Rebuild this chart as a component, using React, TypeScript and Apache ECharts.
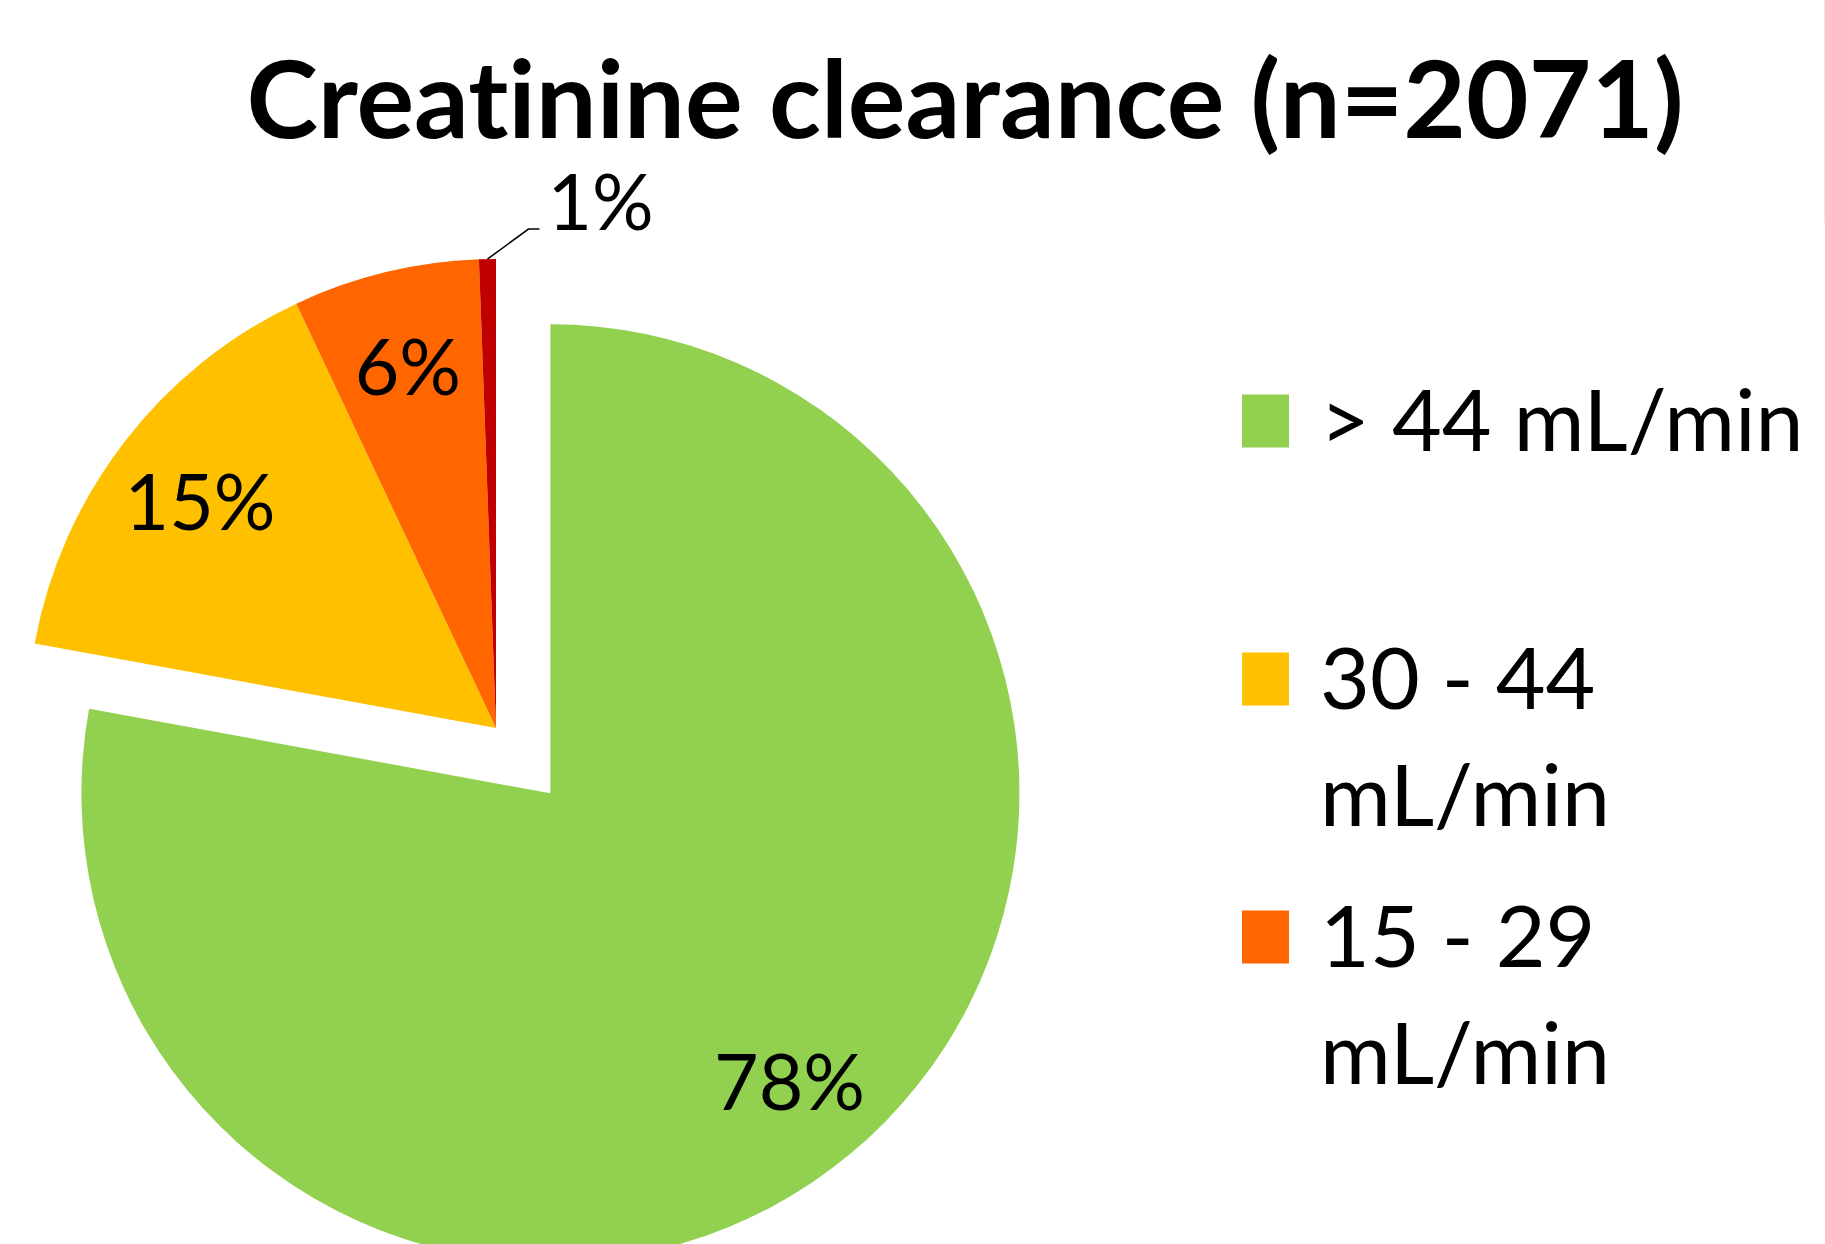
import React, { useEffect, useRef } from 'react';
import * as echarts from 'echarts';

const titleText = 'Creatinine clearance (n=2071)';
const categories = ['> 44 mL/min', '30 - 44 mL/min', '15 - 29 mL/min', '< 15 mL/min'];
const counts = [1613, 313, 133, 12];
const colors = ['#92D050', '#FFC000', '#FF6600', '#C00000'];
const legendShown = 3;

const FONT = 'Lato, "Open Sans", sans-serif';

// wrap long legend names before the unit, as the reference does
const wrapLegend = (name: string) => (name.length > 12 ? name.replace(' mL/min', '\nmL/min') : name);

export default function App() {
  const ref = useRef<HTMLDivElement>(null);
  useEffect(() => {
    if (!ref.current) return;
    const chart = echarts.init(ref.current, null, { renderer: 'svg' });
    const R = 469;
    const center = [496, 728];

    const legendItems: any[] = categories.slice(0, legendShown).flatMap((name, i) => {
      const cy = 421 + i * 258;
      return [
        {
          type: 'rect',
          shape: { x: 1242, y: cy - 26.5, width: 47, height: 53 },
          style: { fill: colors[i] },
          silent: true,
        },
        {
          type: 'text',
          x: 1320,
          y: cy - 62,
          silent: true,
          style: {
            text: wrapLegend(name),
            fontSize: 86,
            fontFamily: FONT,
            lineHeight: 117,
            fill: '#000',
            textAlign: 'left',
            align: 'left',
            textVerticalAlign: 'top',
            verticalAlign: 'top',
          },
        },
      ];
    });

    const mainData = categories.map((name, i) => ({
      name,
      value: counts[i],
      selected: i === 0,
      itemStyle: { color: colors[i], borderWidth: 0 },
      select: { itemStyle: { color: colors[i], borderWidth: 0 } },
      label: { show: i === 3 },
      labelLine: { show: i === 3 },
    }));

    const labelData = categories.map((name, i) => ({
      name,
      value: counts[i],
      selected: i === 0,
      itemStyle: { color: 'rgba(0,0,0,0)', borderWidth: 0 },
      select: { itemStyle: { color: 'rgba(0,0,0,0)', borderWidth: 0 } },
      label: { show: i < 3 },
    }));

    const option: any = {
      animation: false,
      backgroundColor: '#ffffff',
      graphic: [
        {
          type: 'text',
          x: 965,
          y: 96,
          silent: true,
          style: {
            text: titleText,
            fontSize: 108,
            fontWeight: 'bold',
            fontFamily: FONT,
            fill: '#000',
            textAlign: 'center',
            align: 'center',
            textVerticalAlign: 'middle',
            verticalAlign: 'middle',
          },
        },
        {
          type: 'line',
          silent: true,
          shape: { x1: 1824.5, y1: 0, x2: 1824.5, y2: 223 },
          style: { stroke: '#e6e8ee', lineWidth: 1 },
        },
        ...legendItems,
      ],
      series: [
        {
          type: 'pie',
          center,
          radius: [0, R],
          startAngle: 90,
          clockwise: true,
          selectedMode: 'single',
          selectedOffset: 85,
          avoidLabelOverlap: false,
          percentPrecision: 0,
          silent: true,
          emphasis: { disabled: true },
          data: mainData,
          label: {
            position: 'outside',
            formatter: '{d}%',
            fontSize: 77,
            fontFamily: FONT,
            color: '#000',
          },
          labelLine: {
            length: 40,
            length2: 11,
            lineStyle: { color: '#000', width: 1.5 },
          },
          labelLayout: (p: any) => {
            if (p.dataIndex !== 3 || !p.labelLinePoints) return {};
            const p0 = p.labelLinePoints[0];
            const p1 = [p0[0] + 41, p0[1] - 30];
            const p2 = [p1[0] + 11, p1[1]];
            return {
              x: p2[0] + 8,
              y: p1[1] - 29,
              align: 'left',
              verticalAlign: 'middle',
              labelLinePoints: [p0, p1, p2],
            };
          },
        },
        {
          type: 'pie',
          center,
          radius: [R * 0.58, R],
          startAngle: 90,
          clockwise: true,
          selectedMode: 'single',
          selectedOffset: 85,
          avoidLabelOverlap: false,
          percentPrecision: 0,
          silent: true,
          emphasis: { disabled: true },
          data: labelData,
          label: {
            position: 'inside',
            formatter: '{d}%',
            fontSize: 77,
            fontFamily: FONT,
            color: '#000',
          },
          labelLine: { show: false },
        },
      ],
    };
    chart.setOption(option);
    return () => chart.dispose();
  }, []);

  return (
    <div
      ref={ref}
      style={{
        position: 'fixed',
        left: 0,
        top: 0,
        width: 1825,
        height: 1244,
        fontVariantLigatures: 'none',
      }}
    />
  );
}
